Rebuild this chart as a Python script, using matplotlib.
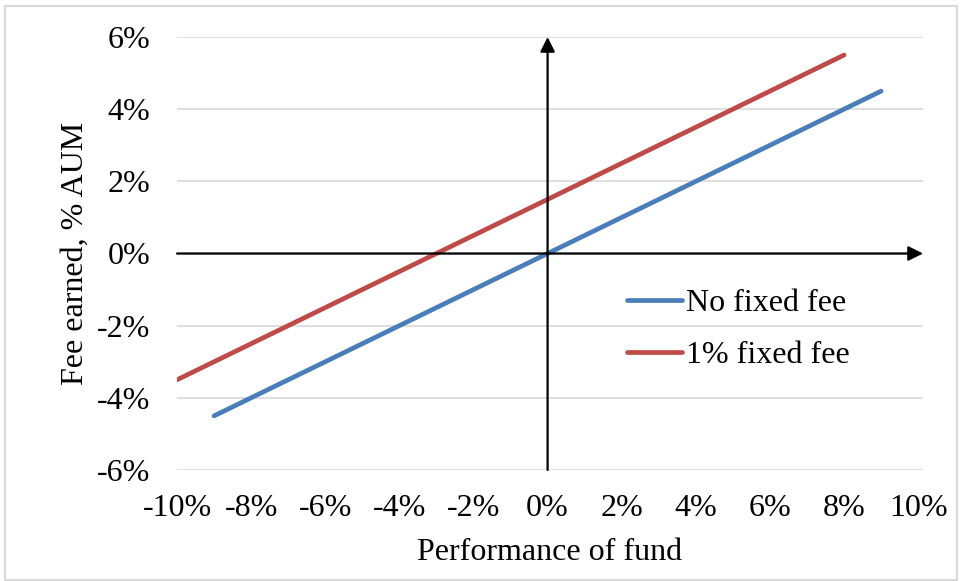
import matplotlib.pyplot as plt
from matplotlib.patches import Rectangle

# data (in %)
no_fee_x = [-9, 9]
no_fee_y = [-4.5, 4.5]
fixed_fee_x = [-10, 8]
fixed_fee_y = [-3.5, 5.5]

x_ticks = [-10, -8, -6, -4, -2, 0, 2, 4, 6, 8, 10]
y_ticks = [-6, -4, -2, 0, 2, 4, 6]

plt.rcParams["font.family"] = ["Liberation Serif", "DejaVu Serif"]

fig = plt.figure(figsize=(9.63, 5.81), dpi=100)
ax = fig.add_axes([177 / 963, 1 - 470 / 581, (923 - 177) / 963, (470 - 37) / 581])

# light gray frame round the whole picture
fig.patches.append(Rectangle((5 / 963, 1 / 581), 952 / 963, 574 / 581, transform=fig.transFigure,
                             fill=False, edgecolor="#d9d9d9", lw=1.5))

ax.set_xlim(-10, 10.13)
ax.set_ylim(-6, 6)
for t in y_ticks:
    ax.axhline(t, color="#d9d9d9", lw=1.2, zorder=0)

for s in ax.spines.values():
    s.set_visible(False)

ax.set_xticks(x_ticks)
ax.set_xticklabels([f"{t}%" for t in x_ticks])
ax.set_yticks(y_ticks)
ax.set_yticklabels([f"{t}%" for t in y_ticks])
ax.tick_params(axis="both", length=0, labelsize=23)
ax.tick_params(axis="x", pad=17)
ax.tick_params(axis="y", pad=19)

# axes through the origin with arrows
ax.annotate("", xy=(10.13, 0), xytext=(-10, 0),
            arrowprops=dict(arrowstyle="-|>", color="black", lw=1.6, mutation_scale=22, shrinkA=0, shrinkB=0))
ax.annotate("", xy=(0, 6), xytext=(0, -6),
            arrowprops=dict(arrowstyle="-|>", color="black", lw=1.6, mutation_scale=22, shrinkA=0, shrinkB=0))

ax.plot(no_fee_x, no_fee_y, color="#4a7ebb", lw=3.4, solid_capstyle="round", label="No fixed fee")
ax.plot(fixed_fee_x, fixed_fee_y, color="#be4b48", lw=3.4, solid_capstyle="round", label="1% fixed fee")

ax.legend(loc="upper left", bbox_to_anchor=(0.603, 0.418), frameon=False, fontsize=23,
          borderpad=0, borderaxespad=0, handlelength=1.72, handletextpad=0.12, labelspacing=0.7)

ax.set_xlabel("Performance of fund", fontsize=23, labelpad=11)
ax.set_ylabel("Fee earned, % AUM", fontsize=23, labelpad=5)

plt.savefig("out.png", dpi=100)
